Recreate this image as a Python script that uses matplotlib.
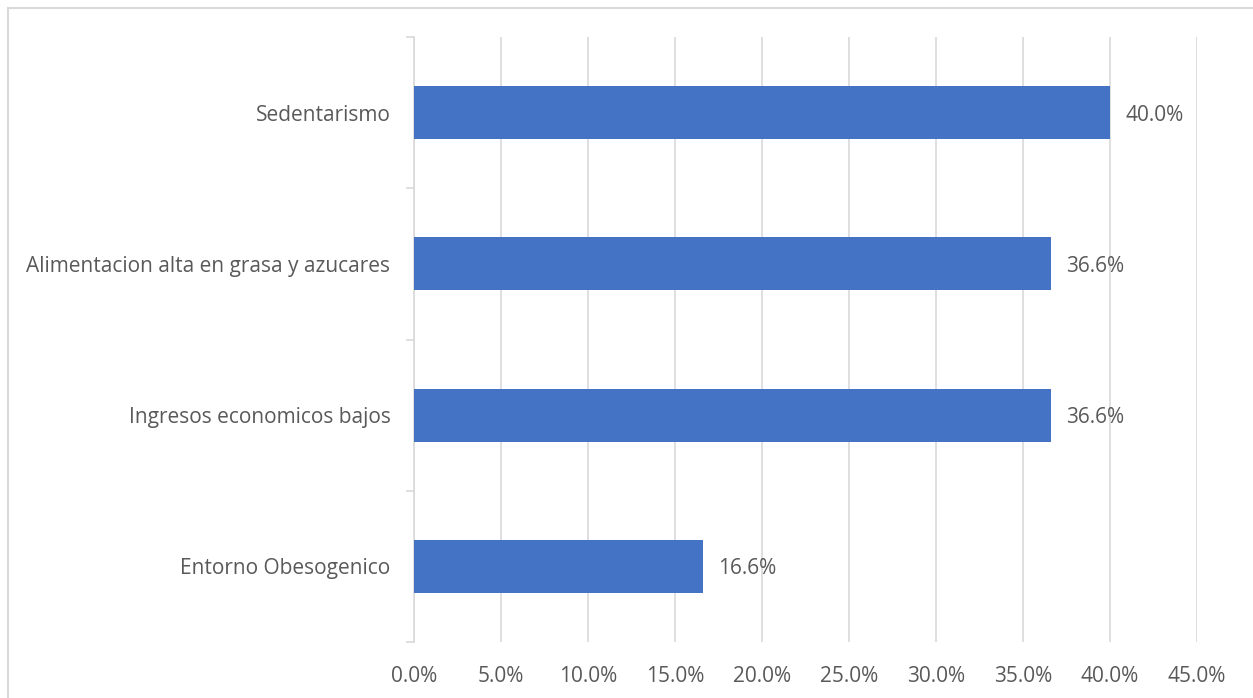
import matplotlib
matplotlib.use("Agg")
import matplotlib.pyplot as plt
import matplotlib.ticker as ticker
from matplotlib.lines import Line2D

# datos (de abajo hacia arriba)
categorias = ["Entorno Obesogenico", "Ingresos economicos bajos",
              "Alimentacion alta en grasa y azucares", "Sedentarismo"]
valores = [16.6, 36.6, 36.6, 40.0]
xticks = [0, 5, 10, 15, 20, 25, 30, 35, 40, 45]

plt.rcParams['font.family'] = ['Open Sans', 'DejaVu Sans']
gris_texto = '#595959'
gris_linea = '#D9D9D9'
tam = 15

fig = plt.figure(figsize=(12.53, 6.98), dpi=100)
ax = fig.add_axes([0.3304, 0.0802, 0.6249, 0.8668])

ys = list(range(len(categorias)))
ax.barh(ys, valores, height=0.35, color='#4472C4', zorder=3)

# etiquetas de valor
for y, v in zip(ys, valores):
    ax.text(v + 0.9, y, "{:.1f}%".format(v), va='center_baseline', ha='left',
            fontsize=tam, color=gris_texto)

ax.set_xlim(0, 45)
ax.set_ylim(-0.5, len(categorias) - 0.5)
ax.set_xticks(xticks)
ax.xaxis.set_major_formatter(ticker.FuncFormatter(lambda x, p: "{:.1f}%".format(x)))
ax.grid(axis='x', color=gris_linea, linewidth=1.2, zorder=0)
ax.tick_params(axis='x', length=0, pad=17, labelsize=tam, labelcolor=gris_texto)

ax.set_yticks(ys)
ax.set_yticklabels(categorias)
ax.tick_params(axis='y', which='major', length=0, pad=17, labelsize=tam, labelcolor=gris_texto)
ax.set_yticks([y - 0.5 for y in range(len(categorias) + 1)], minor=True)
ax.tick_params(axis='y', which='minor', length=6, width=1.2, color=gris_linea)

for s in ['top', 'right', 'bottom']:
    ax.spines[s].set_visible(False)
ax.spines['left'].set_color(gris_linea)
ax.spines['left'].set_linewidth(1.2)

# borde del grafico
fig.add_artist(Line2D([8 / 1253, 8 / 1253], [0, 1 - 8 / 698], transform=fig.transFigure,
                      color=gris_linea, linewidth=1.5))
fig.add_artist(Line2D([8 / 1253, 1], [1 - 8 / 698, 1 - 8 / 698], transform=fig.transFigure,
                      color=gris_linea, linewidth=1.5))

fig.savefig("out.png", dpi=100)
